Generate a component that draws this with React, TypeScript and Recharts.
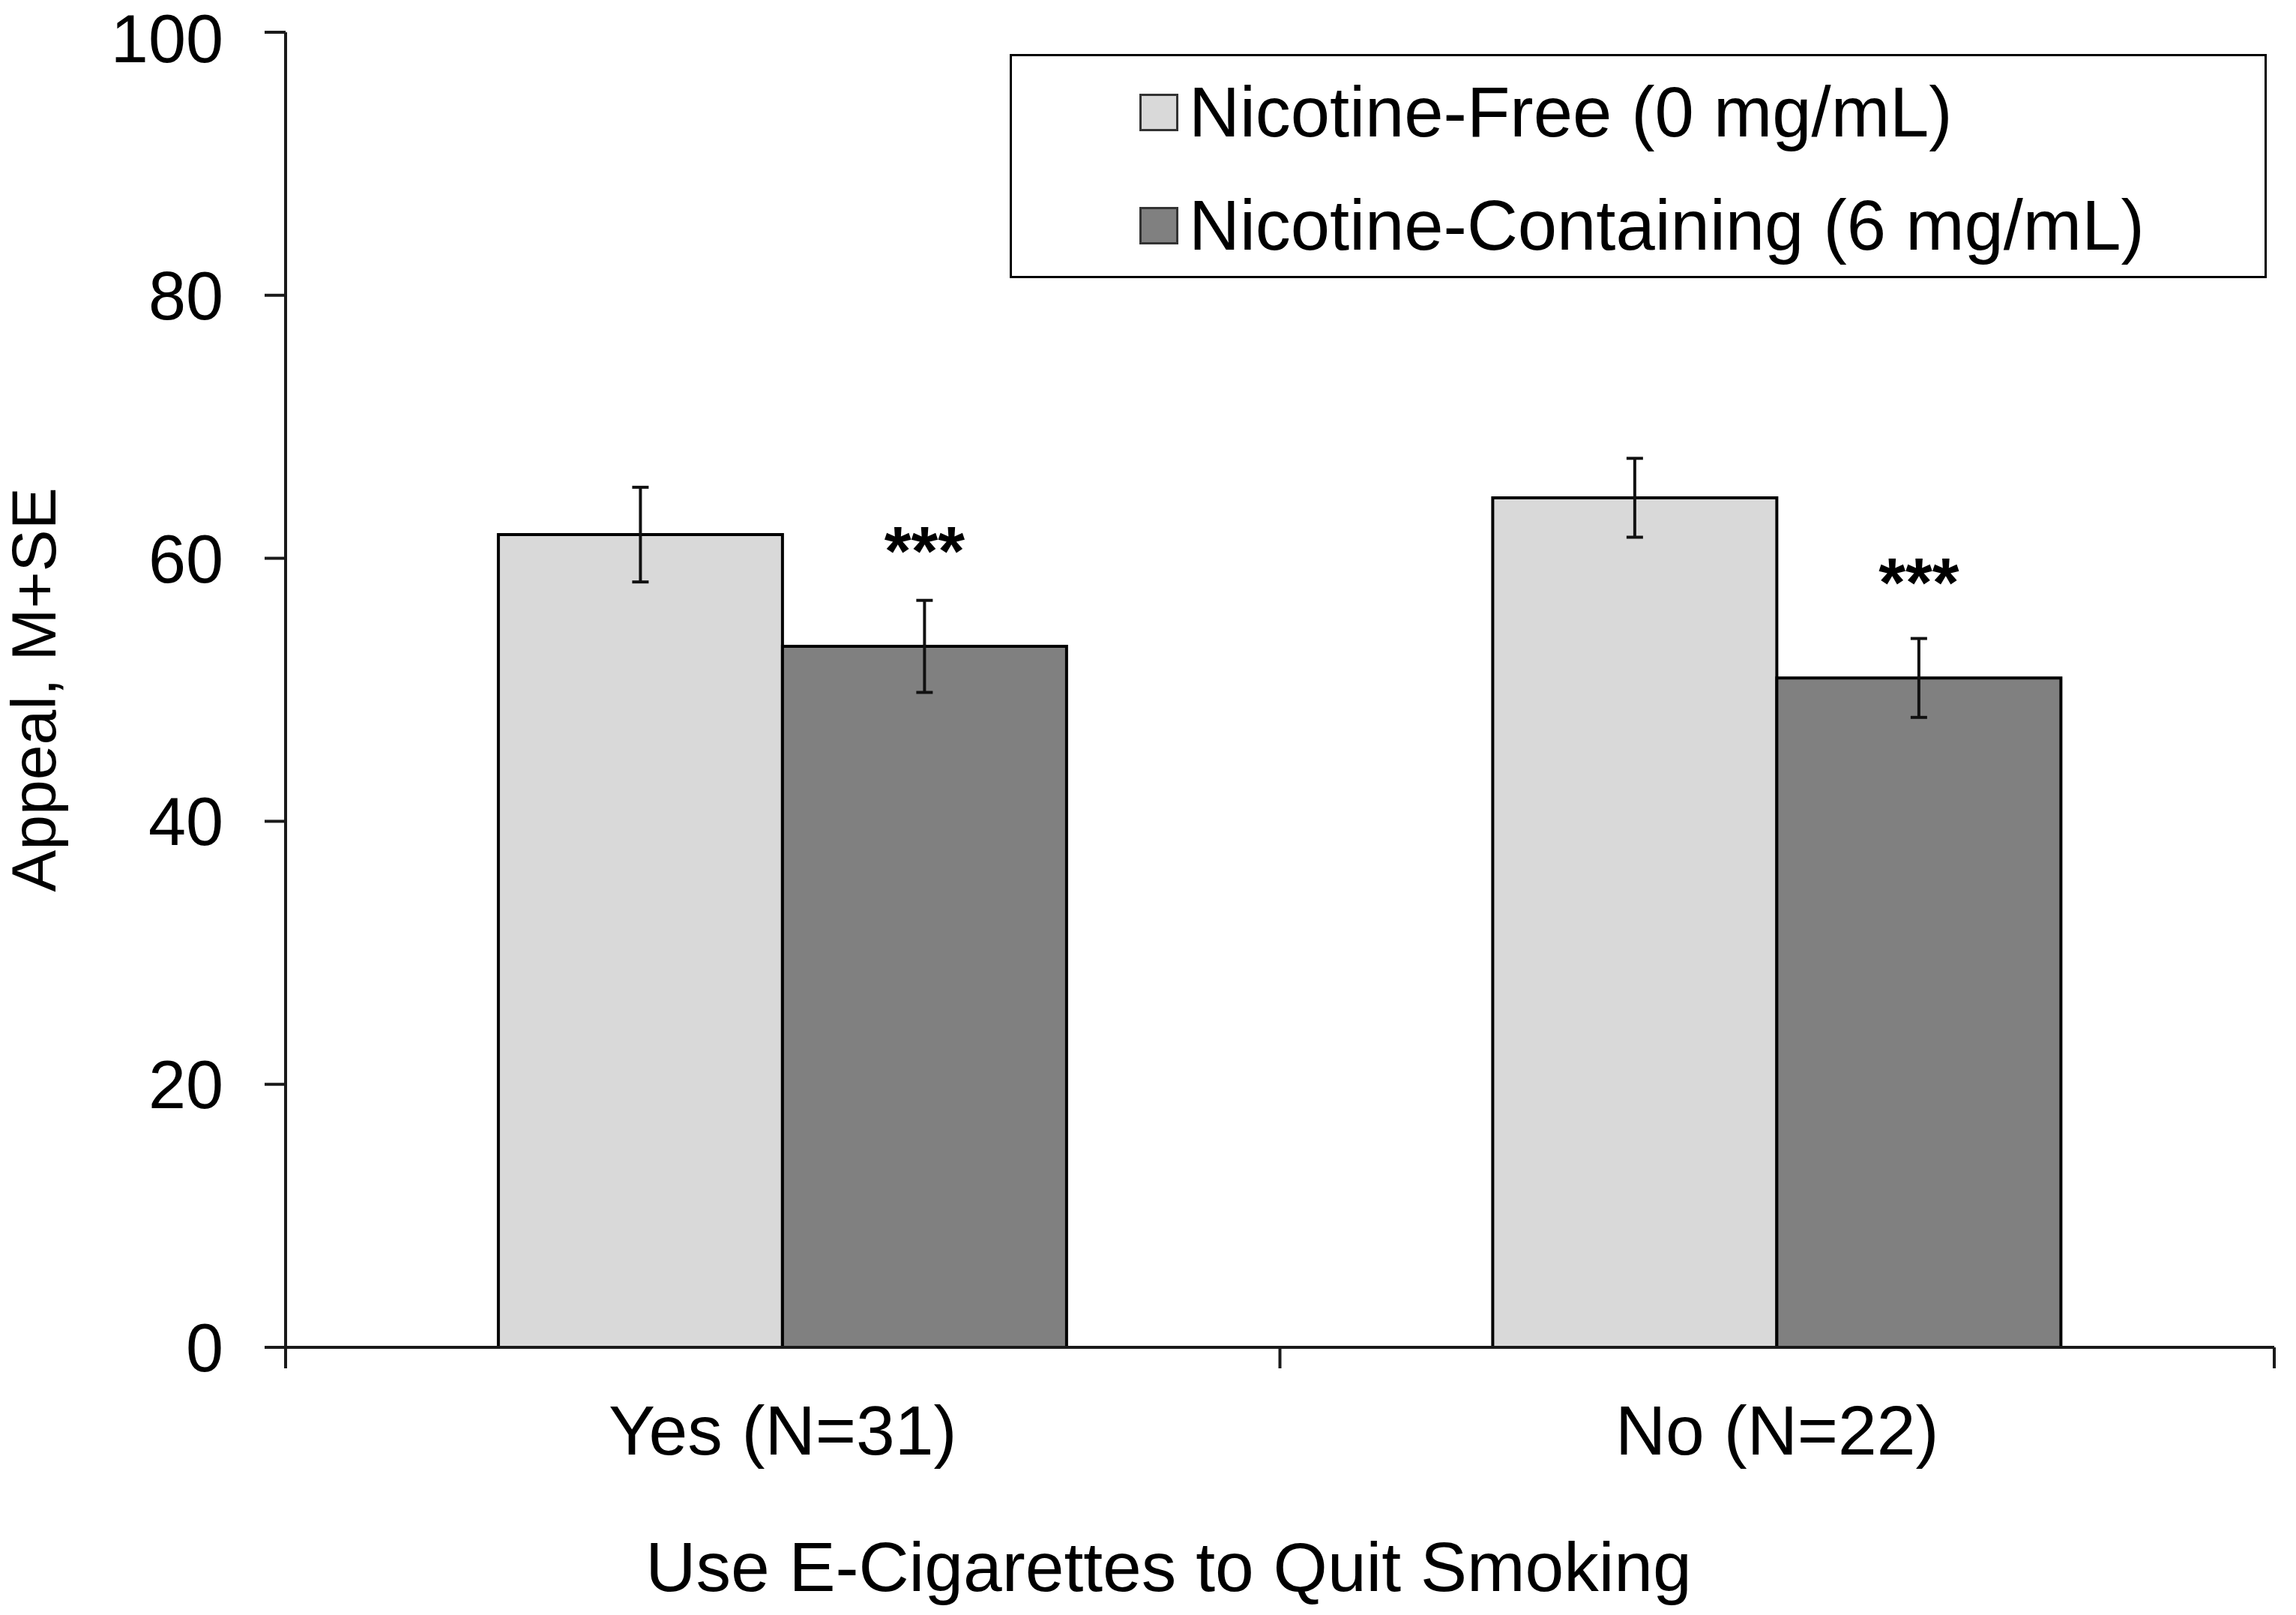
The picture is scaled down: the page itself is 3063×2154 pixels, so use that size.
import { Bar, BarChart, ErrorBar, LabelList, Legend, XAxis, YAxis } from "recharts";

const groups = ["Yes (N=31)", "No (N=22)"];
const seriesNames = ["Nicotine-Free (0 mg/mL)", "Nicotine-Containing (6 mg/mL)"];
const nicotineFree = [61.8, 64.6];
const nicotineFreeSE = [3.6, 3.0];
const nicotineContaining = [53.3, 50.9];
const nicotineContainingSE = [3.5, 3.0];
const significance = ["***", "***"];
const yTicks = [0, 20, 40, 60, 80, 100];

const data = groups.map((group, i) => ({
  group,
  free: nicotineFree[i],
  freeSE: nicotineFreeSE[i],
  cont: nicotineContaining[i],
  contSE: nicotineContainingSE[i],
  sig: significance[i],
}));

const FONT = "'Liberation Sans', Arial, Helvetica, sans-serif";
const AXIS = { stroke: "#1a1a1a", strokeWidth: 4 };
const CAT_MARGIN = 77;
const EDGE_TICK = 28;

// category label plus the tick marks that sit on the group boundaries
function CategoryTick({ x, y, payload, index, visibleTicksCount, width }: any) {
  const band = width / visibleTicksCount;
  const axisY = y - CAT_MARGIN;
  const left = x - band / 2;
  const right = x + band / 2;
  return (
    <g>
      <line x1={left} x2={left} y1={axisY} y2={axisY + EDGE_TICK} {...AXIS} />
      {index === visibleTicksCount - 1 && (
        <line x1={right} x2={right} y1={axisY} y2={axisY + EDGE_TICK} {...AXIS} />
      )}
      <text x={x} y={y} dy="0.71em" textAnchor="middle" fontSize={93} fill="#000">
        {payload.value}
      </text>
    </g>
  );
}

function LegendBox({ payload }: any) {
  // keep the series order, recharts sorts legend items by name
  const items = [...(payload || [])].sort(
    (a: any, b: any) => seriesNames.indexOf(a.value) - seriesNames.indexOf(b.value)
  );
  return (
    <div style={{ paddingLeft: 170, paddingTop: 20 }}>
      {items.map((p: any) => (
        <div
          key={p.value}
          style={{ display: "flex", alignItems: "center", height: 110, marginBottom: 41 }}
        >
          <span
            style={{
              width: 52,
              height: 50,
              boxSizing: "border-box",
              background: p.color,
              border: "3px solid #333",
              marginRight: 14,
            }}
          />
          <span style={{ fontSize: 94, color: "#000", lineHeight: 1 }}>{p.value}</span>
        </div>
      ))}
    </div>
  );
}

export default function App() {
  return (
    <div style={{ position: "absolute", left: 0, top: 0, background: "#fff", fontFamily: FONT }}>
      <BarChart
        width={3063}
        height={2154}
        data={data}
        margin={{ top: 43, right: 29, bottom: 0, left: 0 }}
        barCategoryGap="21.4%"
        barGap={0}
      >
        <XAxis
          dataKey="group"
          height={357}
          axisLine={AXIS}
          tickLine={false}
          tickSize={0}
          tickMargin={CAT_MARGIN}
          tick={<CategoryTick />}
          label={{
            content: () => (
              <text x={1559} y={2122} textAnchor="middle" fontSize={93} fill="#000">
                Use E-Cigarettes to Quit Smoking
              </text>
            ),
          }}
        />
        <YAxis
          width={381}
          domain={[0, 100]}
          ticks={yTicks}
          tickSize={28}
          tickMargin={55}
          axisLine={AXIS}
          tickLine={AXIS}
          tick={{ fill: "#000", fontSize: 90 }}
          label={{
            content: ({ viewBox }: any) => {
              const cy = viewBox.y + viewBox.height / 2;
              return (
                <text
                  x={45}
                  y={cy}
                  transform={`rotate(-90 45 ${cy})`}
                  textAnchor="middle"
                  dominantBaseline="central"
                  fontSize={84}
                  fill="#000"
                >
                  Appeal, M+SE
                </text>
              );
            },
          }}
        />
        <Legend
          layout="horizontal"
          align="center"
          verticalAlign="middle"
          content={<LegendBox />}
          wrapperStyle={{
            left: 1347,
            top: 72,
            width: 1677,
            height: 299,
            border: "3px solid #000",
            boxSizing: "border-box",
            background: "#fff",
          }}
        />
        <Bar
          dataKey="free"
          name={seriesNames[0]}
          fill="#d9d9d9"
          stroke="#000"
          strokeWidth={4}
          isAnimationActive={false}
        >
          <ErrorBar dataKey="freeSE" width={11} stroke="#111" strokeWidth={4} direction="y" />
        </Bar>
        <Bar
          dataKey="cont"
          name={seriesNames[1]}
          fill="#808080"
          stroke="#000"
          strokeWidth={4}
          isAnimationActive={false}
        >
          <ErrorBar dataKey="contSE" width={11} stroke="#111" strokeWidth={4} direction="y" />
          <LabelList
            dataKey="sig"
            content={({ x, y, width, value }: any) => (
              <text
                x={x + width / 2}
                y={y - 95}
                textAnchor="middle"
                fontSize={92}
                fontWeight="bold"
                fill="#000"
              >
                {value}
              </text>
            )}
          />
        </Bar>
      </BarChart>
    </div>
  );
}
